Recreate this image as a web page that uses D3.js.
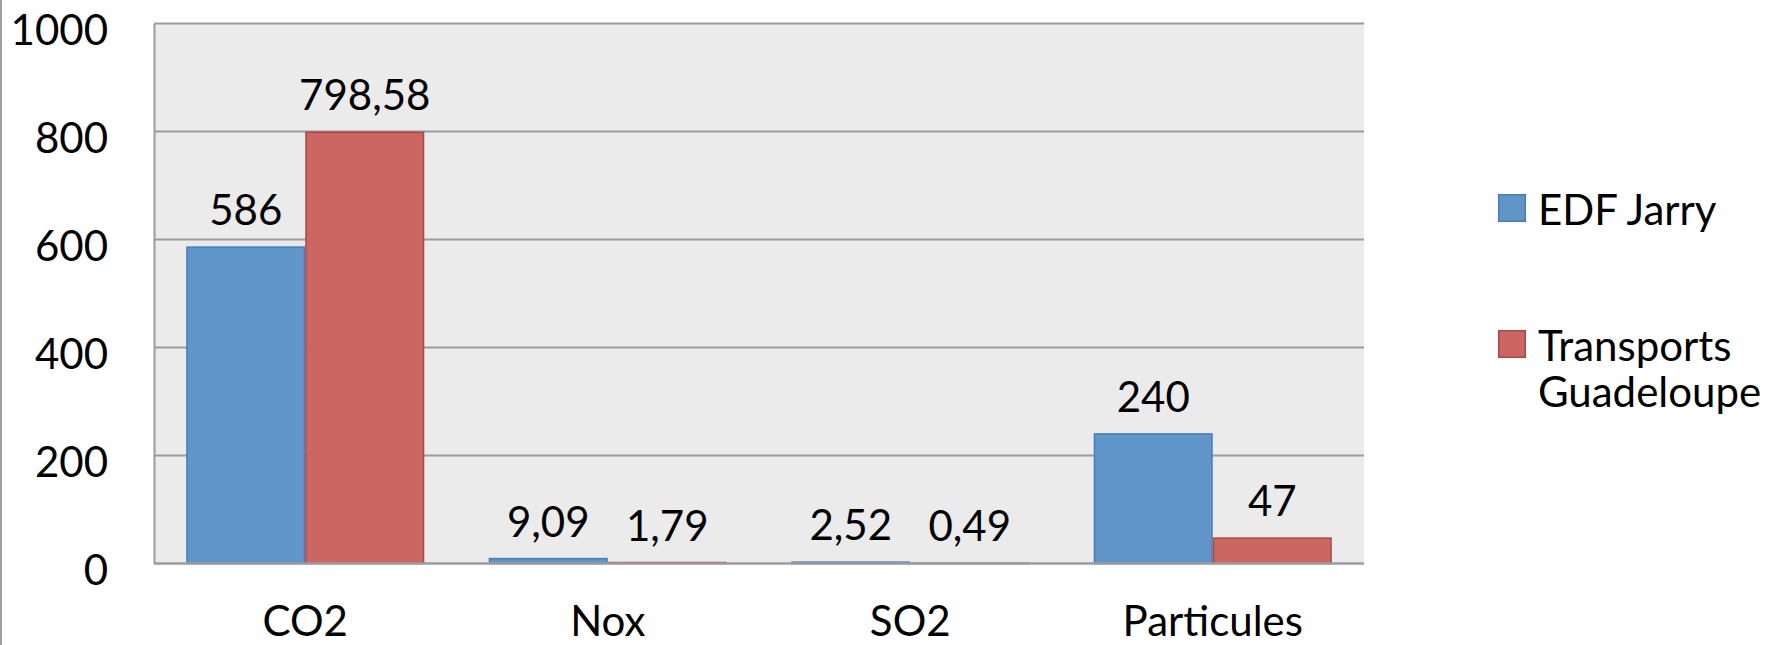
<!DOCTYPE html>
<html>
<head>
<meta charset="utf-8">
<script src="https://cdn.jsdelivr.net/npm/d3@7"></script>
<style>
  html, body { margin: 0; padding: 0; background: #fff; }
  svg { display: block; }
  text { font-family: Lato, "Open Sans", "Liberation Sans", sans-serif; fill: #000; }
</style>
</head>
<body>
<svg id="chart" width="1777" height="645"></svg>
<script>
// Pollutant categories and the two emission sources
const categories = ["CO2", "Nox", "SO2", "Particules"];
const seriesNames = ["EDF Jarry", "Transports Guadeloupe"];
const edfJarry = [586, 9.09, 2.52, 240];
const transportsGuadeloupe = [798.58, 1.79, 0.49, 47];
const yTicks = [0, 200, 400, 600, 800, 1000];

const seriesValues = [edfJarry, transportsGuadeloupe];
const fills = ["#6096C9", "#CC6660"];
const strokes = ["#4A7DB8", "#A7484A"];

const svg = d3.select("#chart");
const W = 1777, H = 645;
const plot = { left: 154, right: 1364, top: 23.5, bottom: 563.5 };
const fontSize = 42;

// outer frame edge on the left
svg.append("line")
  .attr("x1", 1).attr("x2", 1).attr("y1", 0).attr("y2", H)
  .attr("stroke", "#A0A0A0").attr("stroke-width", 2);

const x0 = d3.scaleBand()
  .domain(categories)
  .range([plot.left, plot.right])
  .paddingInner(0.213)
  .paddingOuter(0.1065);

const x1 = d3.scaleBand()
  .domain(seriesNames)
  .range([0, x0.bandwidth()]);

const y = d3.scaleLinear().domain([0, 1000]).range([plot.bottom, plot.top]);

// plot background
svg.append("rect")
  .attr("x", plot.left).attr("y", plot.top)
  .attr("width", plot.right - plot.left).attr("height", plot.bottom - plot.top)
  .attr("fill", "#EBEBEB");

// horizontal gridlines
svg.append("g").selectAll("line")
  .data(yTicks.filter(d => d > 0))
  .join("line")
  .attr("x1", plot.left).attr("x2", plot.right)
  .attr("y1", d => y(d)).attr("y2", d => y(d))
  .attr("stroke", "#9C9C9C").attr("stroke-width", 2);

// y axis
const yAxis = d3.axisLeft(y).tickValues(yTicks).tickSize(0).tickPadding(0).tickFormat(d3.format("d"));
const yg = svg.append("g")
  .attr("transform", `translate(${plot.left},0)`)
  .call(yAxis);
yg.select(".domain").attr("stroke", "#9C9C9C").attr("stroke-width", 2);
yg.selectAll(".tick text")
  .attr("x", -46)
  .attr("dy", "0.5em")
  .style("font-size", fontSize + "px")
  .style("font-family", "Lato, 'Open Sans', sans-serif")
  .attr("fill", "#000");

// bars
const groups = svg.append("g").selectAll("g")
  .data(categories)
  .join("g")
  .attr("transform", d => `translate(${x0(d)},0)`);

groups.selectAll("rect")
  .data((c, i) => seriesNames.map((s, k) => ({ s, k, v: seriesValues[k][i] })))
  .join("rect")
  .attr("x", d => x1(d.s) + 0.75)
  .attr("y", d => y(d.v))
  .attr("width", x1.bandwidth() - 1.5)
  .attr("height", d => y(0) - y(d.v))
  .attr("fill", d => fills[d.k])
  .attr("stroke", d => strokes[d.k])
  .attr("stroke-width", 1.5);

// value labels (French decimal comma)
const fmt = v => String(v).replace(".", ",");
groups.selectAll("text.val")
  .data((c, i) => seriesNames.map((s, k) => ({ s, k, v: seriesValues[k][i] })))
  .join("text")
  .attr("class", "val")
  .attr("x", d => x1(d.s) + x1.bandwidth() / 2)
  .attr("y", d => y(d.v) - 22)
  .attr("text-anchor", "middle")
  .style("font-size", fontSize + "px")
  .text(d => fmt(d.v));

// x axis baseline
svg.append("line")
  .attr("x1", plot.left).attr("x2", plot.right)
  .attr("y1", plot.bottom).attr("y2", plot.bottom)
  .attr("stroke", "#9C9C9C").attr("stroke-width", 2.5);

// category labels
const xAxis = d3.axisBottom(x0).tickSize(0).tickPadding(0);
const xg = svg.append("g").attr("transform", `translate(0,${plot.bottom})`).call(xAxis);
xg.select(".domain").remove();
xg.selectAll(".tick text")
  .attr("y", 72)
  .attr("dy", 0)
  .style("font-size", fontSize + "px")
  .style("font-family", "Lato, 'Open Sans', sans-serif")
  .attr("fill", "#000");

// legend
const legend = svg.append("g");
const legendRows = [
  { lines: ["EDF Jarry"], y: 194 },
  { lines: ["Transports", "Guadeloupe"], y: 330 }
];
legendRows.forEach((r, k) => {
  legend.append("rect")
    .attr("x", 1498.75).attr("y", r.y + 0.75)
    .attr("width", 26.5).attr("height", 26.5)
    .attr("fill", fills[k]).attr("stroke", strokes[k]).attr("stroke-width", 1.5);
  const t = legend.append("text")
    .attr("x", 1538).attr("y", r.y + 31)
    .style("font-size", fontSize + "px");
  r.lines.forEach((ln, j) => {
    t.append("tspan").attr("x", 1538).attr("dy", j === 0 ? 0 : 46).text(ln);
  });
});
</script>
</body>
</html>
